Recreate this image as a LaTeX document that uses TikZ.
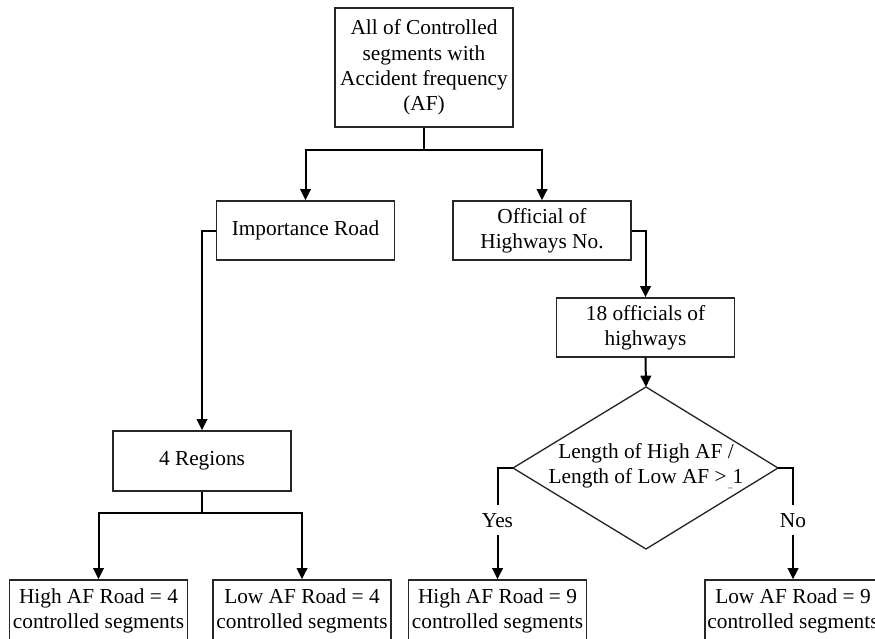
\documentclass[tikz,border=0pt]{standalone}
\usepackage{fontspec}
\setmainfont{Liberation Serif}
\usetikzlibrary{arrows.meta}
\begin{document}
\begin{tikzpicture}[x=0.75pt,y=-0.75pt,
  txt/.style={font=\fontsize{16}{19}\selectfont, align=center},
  box/.style={txt, draw=black!85, line width=1pt, minimum width=133.5pt, minimum height=44.25pt, inner sep=0pt},
  conn/.style={line width=1.5pt, draw=black},
  arr/.style={conn, -{Triangle[length=8.5pt,width=8pt]}},
  lbl/.style={txt, fill=white, inner xsep=1pt, inner ysep=6pt}
]
\useasboundingbox (0,0) rectangle (875,639);
\clip (0,0) rectangle (875,639);

% boxes
\node[box, minimum height=89.25pt] (top) at (424,67.5) {All of Controlled\\segments with\\Accident frequency\\(AF)};
\node[box] (imp) at (305.5,230.5) {Importance Road};
\node[box] (off) at (542,230.5) {Official of\\Highways No.};
\node[box] (off18) at (645.5,327.5) {18 officials of\\highways};
\node[box, minimum height=45pt] (reg) at (202,461) {4 Regions};
\node[box, minimum height=46.5pt] (b1) at (98.5,611) {High AF Road = 4\\controlled segments};
\node[box, minimum height=46.5pt] (b2) at (302,611) {Low AF Road = 4\\controlled segments};
\node[box, minimum height=46.5pt] (b3) at (497.5,611) {High AF Road = 9\\controlled segments};
\node[box, minimum height=46.5pt, minimum width=132pt] (b4) at (793,611) {Low AF Road = 9\\controlled segments};

% diamond
\coordinate (dt) at (646,387);
\coordinate (dl) at (513,468);
\coordinate (dr) at (778,468);
\coordinate (db) at (646,549);
\draw[draw=black!85, line width=1pt] (dt) -- (dr) -- (db) -- (dl) -- cycle;
\node[txt] (dtext) at (646,466) {Length of High AF /\\Length of Low AF >\kern1pt\raisebox{-3pt}{\scriptsize\_}1};

% connectors
\coordinate (j1) at (424,149.5);
\draw[conn] (top.south) -- (j1);
\draw[arr] (j1) -| (imp.north);
\draw[arr] (j1) -| (off.north);
\draw[arr] (imp.west) -| (reg.north);
\draw[arr] (off.east) -| (off18.north);
\draw[arr] (off18.south) -- (dt);
\coordinate (j2) at (202,513);
\draw[conn] (reg.south) -- (j2);
\draw[arr] (j2) -| (b1.north);
\draw[arr] (j2) -| (b2.north);
\draw[arr] (dl) -| node[lbl, pos=0.735] (yes) {Yes} (b3.north);
\draw[arr] (dr) -| node[lbl, pos=0.735] (no) {No} (b4.north);
\end{tikzpicture}
\end{document}
